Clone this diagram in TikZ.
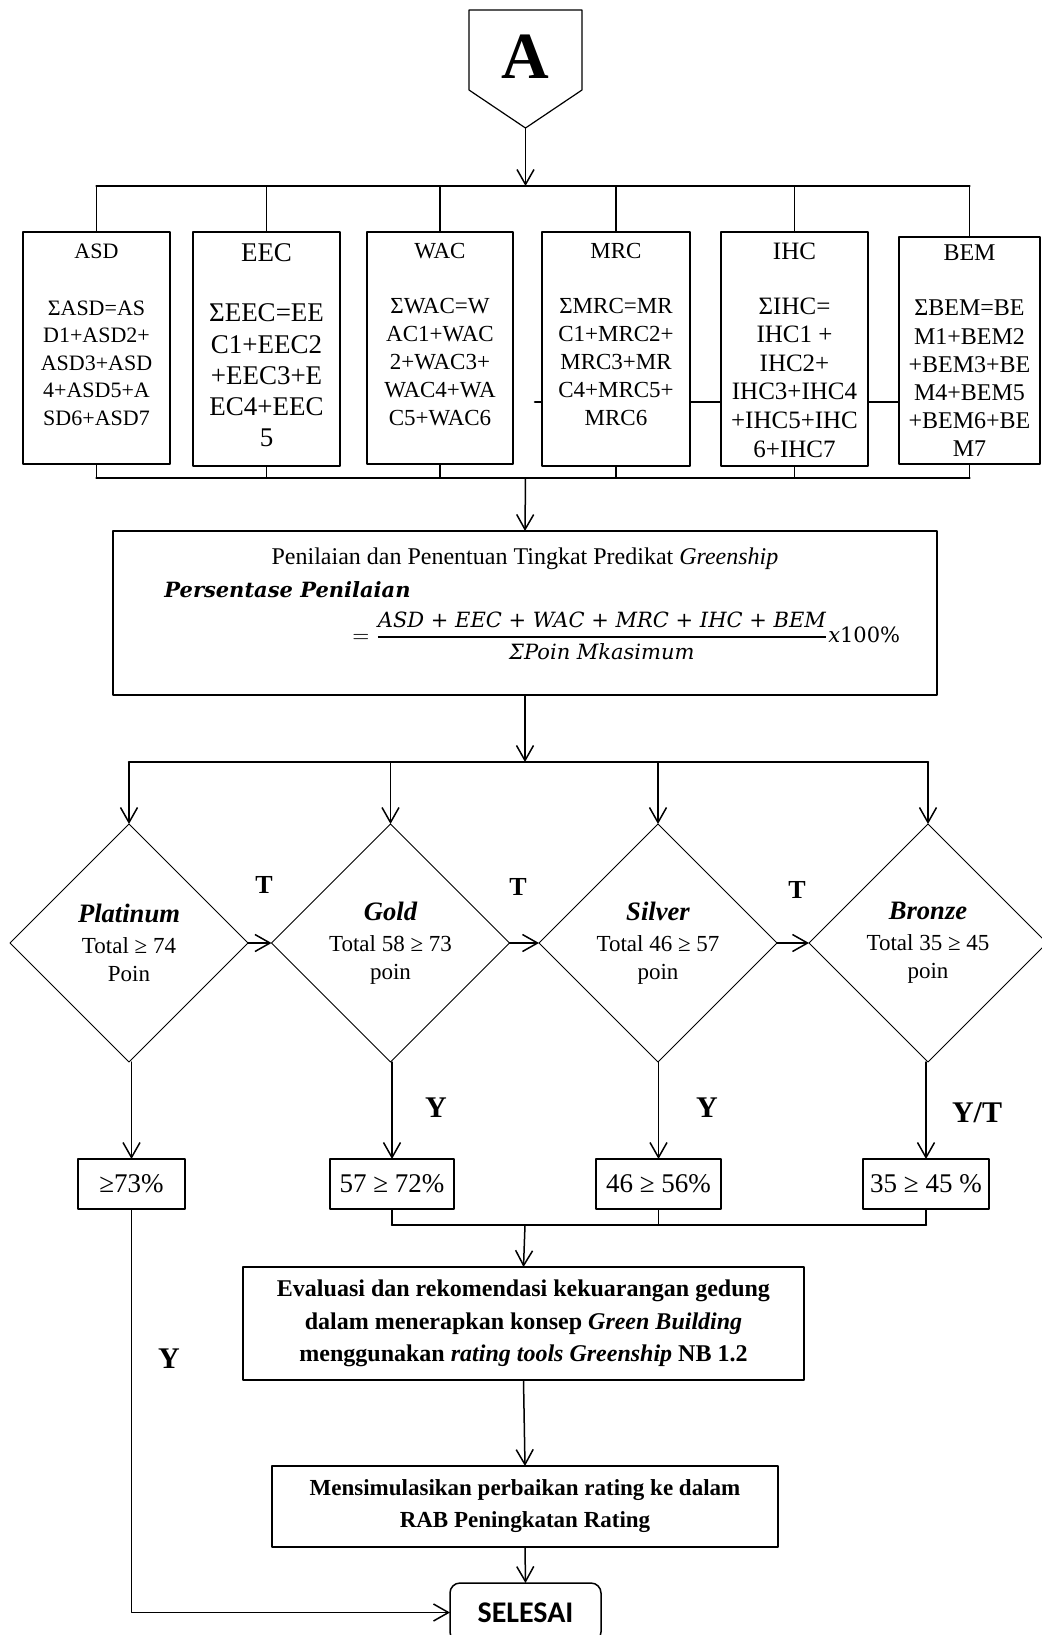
\documentclass[tikz,border=0pt]{standalone}
\usepackage{fontspec}
\setmainfont{Liberation Serif}
\newfontfamily\cmath{DejaVu Serif}
\newfontfamily\calibri{Carlito}
\usetikzlibrary{shapes.geometric,arrows.meta}

\begin{document}
\begin{tikzpicture}[x=0.5pt,y=-0.5pt,line cap=round,line join=round,
  box/.style={draw,line width=0.75pt,fill=white,inner sep=0pt,outer sep=0pt},
  cattxt/.style={align=center,inner sep=0pt},
  dec/.style={draw,diamond,aspect=1,line width=0.5pt,minimum width=119pt,minimum height=119pt,
    inner sep=0pt,outer sep=0pt,align=center,font=\fontsize{11.5}{14}\selectfont},
  pct/.style={box,minimum height=25pt,font=\fontsize{13.5}{16}\selectfont},
  bar/.style={line width=1.3pt},
  link/.style={line width=0.75pt},
  arr/.style={line width=0.75pt,-{Straight Barb[length=7.5pt,width=8.5pt]}},
  yt/.style={inner sep=0pt,font=\bfseries\fontsize{15}{18}\selectfont},
  tt/.style={inner sep=0pt,font=\bfseries\fontsize{13}{16}\selectfont}]
  \path[use as bounding box,fill=white] (0,0) rectangle (1041,1635);

  % connector A
  \node[inner sep=0pt,font=\bfseries\fontsize{33}{33}\selectfont] (A) at (525.5,57) {A};
  \draw[line width=0.6pt] (469,10) -- (582,10) -- (582,90) -- (525.5,128) -- (469,90) -- cycle;
  \coordinate (Atip) at (525.5,128);

  % line behind the boxes
  \coordinate (stray1) at (535,402);
  \coordinate (stray2) at (900,402);
  \draw[bar] (stray1) -- (stray2);

  % categories
  \node[box,minimum width=73.5pt,minimum height=116pt] (asd) at (96.5,348) {};
  \node[box,minimum width=73.5pt,minimum height=117pt] (eec) at (266.5,349) {};
  \node[box,minimum width=73pt,minimum height=116pt] (wac) at (440,348) {};
  \node[box,minimum width=74pt,minimum height=117pt] (mrc) at (616,349) {};
  \node[box,minimum width=73.5pt,minimum height=117pt] (ihc) at (794.5,349) {};
  \node[box,minimum width=70.5pt,minimum height=113.5pt] (bem) at (969.5,350.5) {};

  \node[cattxt,font=\fontsize{11}{13.75}\selectfont] (asdtxt) at (96.5,334.5)
    {ASD\\[14.75pt]ΣASD=AS\\D1+ASD2+\\ASD3+ASD\\4+ASD5+A\\SD6+ASD7};
  \node[cattxt,font=\fontsize{13.5}{15.6}\selectfont] (eectxt) at (266.5,345.5)
    {EEC\\[14.4pt]ΣEEC=EE\\C1+EEC2\\+EEC3+E\\EC4+EEC\\5};
  \node[cattxt,font=\fontsize{11.5}{14}\selectfont] (wactxt) at (440,334.5)
    {WAC\\[13.5pt]ΣWAC=W\\AC1+WAC\\2+WAC3+\\WAC4+WA\\C5+WAC6};
  \node[cattxt,font=\fontsize{11.5}{14}\selectfont] (mrctxt) at (616,334.5)
    {MRC\\[13.5pt]ΣMRC=MR\\C1+MRC2+\\MRC3+MR\\C4+MRC5+\\MRC6};
  \node[cattxt,font=\fontsize{12.5}{14.3}\selectfont] (ihctxt) at (794.5,350)
    {IHC\\[13.2pt]ΣIHC=\\IHC1 +\\IHC2+\\IHC3+IHC4\\+IHC5+IHC\\6+IHC7};
  \node[cattxt,font=\fontsize{12}{14.1}\selectfont] (bemtxt) at (969.5,351)
    {BEM\\[13.4pt]ΣBEM=BE\\M1+BEM2\\+BEM3+BE\\M4+BEM5\\+BEM6+BE\\M7};

  \coordinate (topbar) at (525.5,186);
  \coordinate (botbar) at (525.5,478);
  \draw[arr] (Atip) -- (topbar);
  \draw[bar] (asd.north |- topbar) -- (bem.north |- topbar);
  \draw[bar] (asd.south |- botbar) -- (bem.south |- botbar);
  \foreach \n in {asd,eec,wac,mrc,ihc,bem}{
    \draw[link] (\n.north |- topbar) -- (\n.north);
    \draw[link] (\n.south) -- (\n.south |- botbar);
  }

  % assessment
  \node[box,minimum width=412pt,minimum height=82pt] (nilai) at (525,613) {};
  \node[inner sep=0pt,font=\fontsize{12}{14}\selectfont] (nilaititle) at (525,559)
    {Penilaian dan Penentuan Tingkat Predikat \textit{Greenship}};
  \node[anchor=west,inner sep=0pt,font=\cmath\bfseries\itshape\fontsize{10.5}{12}\selectfont] (persen) at (164,590)
    {Persentase Penilaian};
  \node[anchor=west,inner sep=0pt,font=\cmath\fontsize{10.5}{12}\selectfont] (rumus) at (352,636)
    {$\displaystyle ={\mbox{\itshape ASD + EEC + WAC + MRC + IHC + BEM}\above0.9pt\mbox{\itshape ΣPoin Mkasimum}}$\textit{x}100\%};
  \draw[arr] (botbar) -- (nilai.north);

  % predicates
  \node[dec] (plat) at (129,943) {{\fontsize{13.3}{16}\selectfont\bfseries\itshape Platinum}\\[1.5pt]Total ≥ 74\\Poin};
  \node[dec] (gold) at (390.5,943) {{\fontsize{13.3}{16}\selectfont\bfseries\itshape Gold}\\[1.5pt]Total 58 ≥ 73\\poin};
  \node[dec] (silv) at (658,943) {{\fontsize{13.3}{16}\selectfont\bfseries\itshape Silver}\\[1.5pt]Total 46 ≥ 57\\poin};
  \node[dec] (bron) at (928,943) {{\fontsize{13.3}{16}\selectfont\bfseries\itshape Bronze}\\[1.5pt]Total 35 ≥ 45\\poin};

  \coordinate (dbar) at (525,762);
  \draw[arr] (nilai.south) -- (dbar);
  \draw[bar] (plat.north |- dbar) -- (bron.north |- dbar);
  \foreach \n in {plat,gold,silv,bron}
    \draw[arr] (\n.north |- dbar) -- (\n.north);
  \draw[arr] (plat.east) -- (gold.west);
  \draw[arr] (gold.east) -- (silv.west);
  \draw[arr] (silv.east) -- (bron.west);
  \node[tt] (t1) at (264,885) {T};
  \node[tt] (t2) at (518,887) {T};
  \node[tt] (t3) at (797,890) {T};

  % percentages
  \node[pct,minimum width=53.5pt] (p1) at (131.5,1184) {≥73\%};
  \node[pct,minimum width=62pt] (p2) at (392,1184) {57 ≥ 72\%};
  \node[pct,minimum width=62.5pt] (p3) at (658.5,1184) {46 ≥ 56\%};
  \node[pct,minimum width=63pt] (p4) at (926,1184) {35 ≥ 45 \%};
  \draw[arr] (p1.north |- plat.south) -- (p1.north);
  \draw[arr] (p2.north |- gold.south) -- (p2.north);
  \draw[arr] (p3.north |- silv.south) -- (p3.north);
  \draw[arr] (p4.north |- bron.south) -- (p4.north);
  \node[yt] (y2) at (436,1108) {Y};
  \node[yt] (y3) at (707,1108) {Y};
  \node[yt] (y4) at (977,1113) {Y/T};
  \node[yt] (y1) at (169,1359) {Y};

  % evaluation and end
  \node[box,minimum width=280.5pt,minimum height=56.5pt,align=center,font=\bfseries\fontsize{12}{16.25}\selectfont] (eval) at (523.5,1323.5)
    {Evaluasi dan rekomendasi kekuarangan gedung\\dalam menerapkan konsep \textit{Green Building}\\menggunakan \textit{rating tools Greenship} NB 1.2};
  \node[box,minimum width=253pt,minimum height=40.5pt,align=center,font=\bfseries\fontsize{11.5}{16}\selectfont] (sim) at (525,1506.5)
    {Mensimulasikan perbaikan rating ke dalam\\RAB Peningkatan Rating};
  \node[box,rounded corners=5pt,minimum width=75.5pt,minimum height=29.5pt,font=\calibri\bfseries\fontsize{15}{18}\selectfont] (sel) at (525.5,1612.5) {SELESAI};

  \coordinate (pbar) at (525,1225);
  \draw[bar] (p2.south |- pbar) -- (p4.south |- pbar);
  \foreach \n in {p2,p3,p4}
    \draw[link] (\n.south) -- (\n.south |- pbar);
  \draw[arr] (pbar) -- (eval.north);
  \draw[arr] (eval.south) -- (sim.north);
  \draw[arr] (sim.south) -- (sel.north);
  \draw[arr] (p1.south) |- (sel.west);
\end{tikzpicture}
\end{document}
